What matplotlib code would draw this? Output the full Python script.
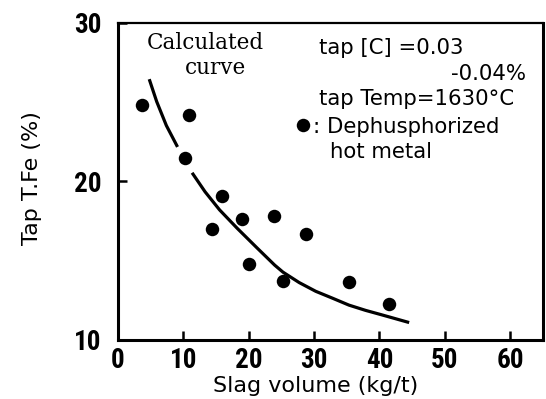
import matplotlib
matplotlib.use("Agg")
import matplotlib.pyplot as plt
from matplotlib.lines import Line2D
from matplotlib import font_manager

# ---- data ----
slag_volume = [3.6, 10.85, 10.2, 15.9, 14.35, 19.05, 23.85, 20.1, 28.7, 25.24, 35.4, 41.5]
tap_tfe = [24.8, 24.2, 21.45, 19.05, 16.97, 17.65, 17.8, 14.8, 16.66, 13.74, 13.67, 12.24]

# calculated curve (drawn in two pieces, interrupted around a data point)
curve_a_x = [4.78, 5.92, 7.40, 9.11]
curve_a_y = [26.44, 25.03, 23.52, 22.17]
curve_b_x = [11.34, 13.33, 15.55, 18.27, 21.24, 23.98, 25.24, 27.73, 30.26, 32.8, 35.34, 37.87, 40.42, 44.56]
curve_b_y = [20.54, 19.34, 18.2, 17.03, 15.82, 14.72, 14.28, 13.62, 13.07, 12.64, 12.2, 11.87, 11.58, 11.1]

x_ticks = [0, 10, 20, 30, 40, 50, 60]
y_ticks = [10, 20, 30]
x_label = "Slag volume (kg/t)"
y_label = "Tap T.Fe (%)"

W, H = 546, 399


def px(x, y):
    return x / W, 1 - y / H


# find a narrow/condensed font for the tick labels if one is installed
narrow_path = None
for f in font_manager.fontManager.ttflist:
    n = (f.name + " " + f.fname).lower()
    if ("narrow" in n or "condensed" in n) and f.weight in ("bold", 700) and "italic" not in n and "oblique" not in n:
        narrow_path = f.fname
        if "liberation" in n:
            break
if narrow_path:
    tick_prop = font_manager.FontProperties(fname=narrow_path, size=19.5)
else:
    tick_prop = font_manager.FontProperties(family="DejaVu Sans", weight="bold", size=14)

fig = plt.figure(figsize=(W / 100, H / 100), dpi=100)
ax = fig.add_axes([118 / W, 1 - 340 / H, (542.7 - 118) / W, (340 - 22.7) / H])

ax.plot(curve_a_x, curve_a_y, color="black", lw=2.3, solid_capstyle="butt")
ax.plot(curve_b_x, curve_b_y, color="black", lw=2.3, solid_capstyle="butt")
ax.plot(slag_volume, tap_tfe, "o", color="black", ms=9.7, mew=0)

ax.set_xlim(0, 65)
ax.set_ylim(10, 30)
ax.set_xticks(x_ticks)
ax.set_yticks(y_ticks)

ax.set_xticklabels([str(v) for v in x_ticks], fontproperties=tick_prop)
ax.set_yticklabels([str(v) for v in y_ticks], fontproperties=tick_prop)
ax.tick_params(axis="both", direction="in", length=6.5, width=1.8, color="black")
ax.tick_params(axis="x", pad=5)
ax.tick_params(axis="y", pad=12)
for s in ax.spines.values():
    s.set_linewidth(2.2)
ax.spines["top"].set_linewidth(1.6)

label_font = dict(family="DejaVu Sans", size=16, color="black")
fig.text(*px(316, 392), x_label, ha="center", va="baseline", **label_font)
fig.text(*px(32, 178.5), y_label, ha="center", va="center", rotation=90, **label_font)

serif = dict(family="DejaVu Serif", size=15.5, color="black")
fig.text(*px(205, 49), "Calculated", ha="center", va="baseline", **serif)
fig.text(*px(215, 74), "curve", ha="center", va="baseline", **serif)

sans = dict(family="DejaVu Sans", size=15.3, color="black")
fig.text(*px(319, 53.5), "tap [C] =0.03", ha="left", va="baseline", **sans)
fig.text(*px(526, 80), "-0.04%", ha="right", va="baseline", **sans)
fig.text(*px(319, 105), "tap Temp=1630°C", ha="left", va="baseline", **sans)
fig.text(*px(313, 133), ": Dephusphorized", ha="left", va="baseline", **sans)
fig.text(*px(329.5, 158), "hot metal", ha="left", va="baseline", **sans)
mx, my = px(303.3, 125)
fig.add_artist(Line2D([mx], [my], marker="o", ms=9.7, mew=0, color="black",
                      transform=fig.transFigure))

fig.savefig("out.png", dpi=100)
